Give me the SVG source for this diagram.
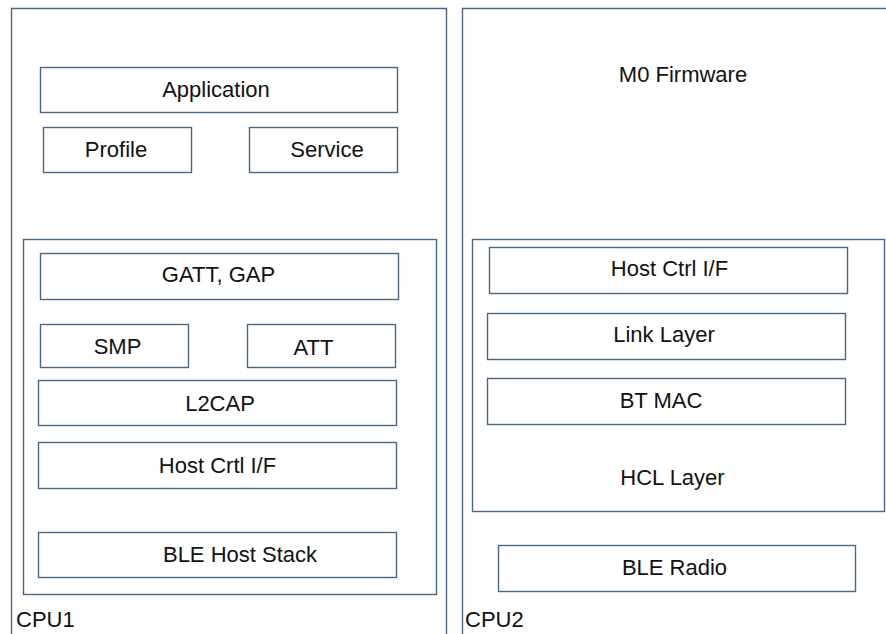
<svg xmlns="http://www.w3.org/2000/svg" width="886" height="634" viewBox="0 0 886 634">
<style>
.b{fill:#fff;stroke:#4a6688;stroke-width:1.4}
.o{fill:none;stroke:#4a6688;stroke-width:1.4}
text{font-family:"Liberation Sans",Arial,sans-serif;font-size:22px;fill:#111}
.c{text-anchor:middle}
</style>
<rect width="886" height="634" fill="#fff"/>
<g id="cpu1">
<path class="o" d="M11.5,640 V8.5 H446.5 V640"/>
<text x="16" y="627">CPU1</text>
</g>
<g id="cpu2">
<path class="o" d="M462.5,640 V8.5 H890"/>
<text x="465" y="627">CPU2</text>
</g>
<g id="application"><rect class="b" x="40.5" y="67.5" width="357" height="45"/><text class="c" x="216" y="97">Application</text></g>
<g id="profile"><rect class="b" x="43.5" y="127.5" width="148" height="45"/><text class="c" x="116" y="157">Profile</text></g>
<g id="service"><rect class="b" x="249.5" y="127.5" width="148" height="45"/><text class="c" x="327" y="157">Service</text></g>
<g id="hoststack">
<rect class="o" x="23.5" y="239.5" width="413" height="355"/>
</g>
<g id="gatt"><rect class="b" x="40.5" y="253.5" width="358" height="46"/><text class="c" x="218.5" y="282">GATT, GAP</text></g>
<g id="smp"><rect class="b" x="40.5" y="324.5" width="148" height="43"/><text class="c" x="117.5" y="354">SMP</text></g>
<g id="att"><rect class="b" x="247.5" y="324.5" width="148" height="43"/><text class="c" x="313.5" y="355">ATT</text></g>
<g id="l2cap"><rect class="b" x="38.5" y="380.5" width="358" height="45"/><text class="c" x="220" y="411">L2CAP</text></g>
<g id="hostcrtl"><rect class="b" x="38.5" y="442.5" width="358" height="46"/><text class="c" x="217.5" y="473">Host Crtl I/F</text></g>
<g id="blehost"><rect class="b" x="38.5" y="532.5" width="358" height="45"/><text class="c" x="240" y="562">BLE Host Stack</text></g>
<g id="m0"><text class="c" x="683" y="82">M0 Firmware</text></g>
<g id="hcl">
<rect class="o" x="472.5" y="239.5" width="412" height="272"/>
<text class="c" x="672.5" y="485">HCL Layer</text>
</g>
<g id="hostctrl"><rect class="b" x="489.5" y="247.5" width="358" height="46"/><text class="c" x="669.5" y="276">Host Ctrl I/F</text></g>
<g id="link"><rect class="b" x="487.5" y="313.5" width="358" height="46"/><text class="c" x="664" y="342">Link Layer</text></g>
<g id="btmac"><rect class="b" x="487.5" y="378.5" width="358" height="46"/><text class="c" x="661" y="408">BT MAC</text></g>
<g id="radio"><rect class="b" x="498.5" y="545.5" width="357" height="46"/><text class="c" x="674.5" y="575">BLE Radio</text></g>
<g id="connectors"></g>
</svg>
